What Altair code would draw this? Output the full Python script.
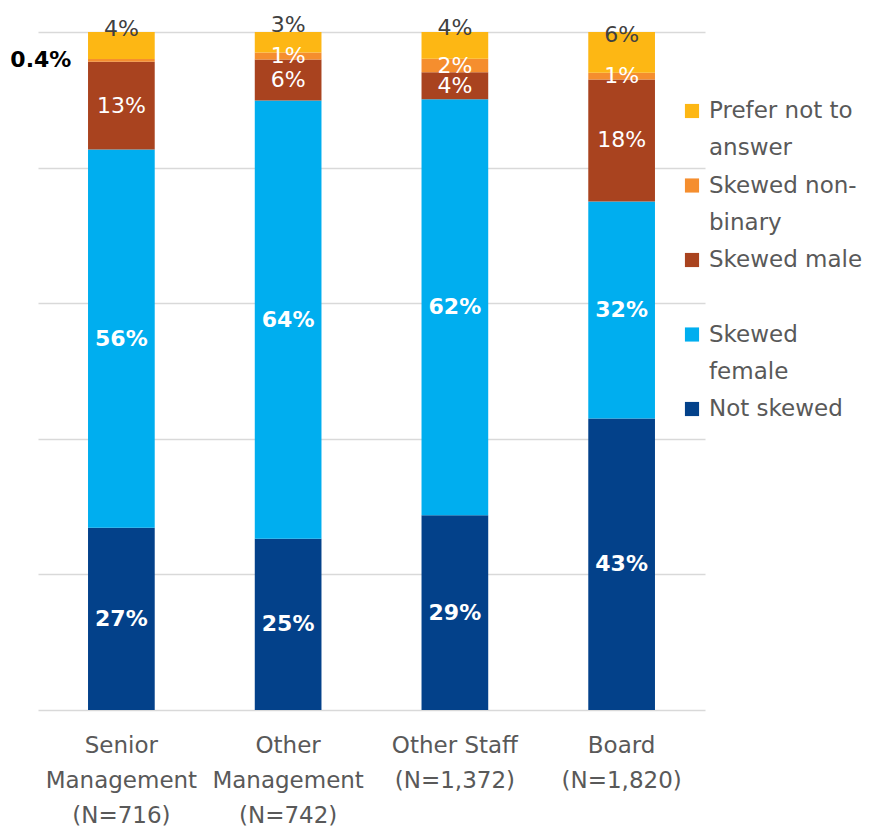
import altair as alt
import pandas as pd

categories = ["Senior|Management|(N=716)", "Other|Management|(N=742)",
              "Other Staff|(N=1,372)", "Board|(N=1,820)"]
series = ["Not skewed", "Skewed female", "Skewed male", "Skewed non-binary", "Prefer not to answer"]
not_skewed = [27, 25, 29, 43]
skewed_female = [56, 64, 62, 32]
skewed_male = [13, 6, 4, 18]
skewed_nonbinary = [0.4, 1, 2, 1]
prefer_not = [4, 3, 4, 6]
colors = ["#03418A", "#00AEEF", "#A9431F", "#F58E2E", "#FDB714"]

legend_order = ["Prefer not to answer", "Skewed non-binary", "Skewed male", "Skewed female", "Not skewed"]
legend_line1 = ["Prefer not to", "Skewed non-", "Skewed male", "Skewed", "Not skewed"]
legend_line2 = ["answer", "binary", "", "female", ""]

values_by_series = [not_skewed, skewed_female, skewed_male, skewed_nonbinary, prefer_not]
rows = []
for si, (s, vals) in enumerate(zip(series, values_by_series)):
    for c, v in zip(categories, vals):
        lab = f"{v}%" if v != int(v) else f"{int(v)}%"
        rows.append({"cat": c, "series": s, "idx": si, "value": v, "label": lab})
df = pd.DataFrame(rows)

leg = pd.DataFrame({"series": legend_order, "l1": legend_line1, "l2": legend_line2})

FONT = "DejaVu Sans"
color_scale = alt.Scale(domain=series, range=colors)

base = (
    alt.Chart(df)
    .transform_joinaggregate(total="sum(value)", groupby=["cat"])
    .transform_calculate(frac="datum.value / datum.total")
    .transform_stack(stack="frac", groupby=["cat"], sort=[alt.SortField("idx", order="ascending")], as_=["y0", "y1"])
    .transform_calculate(mid="(datum.y0 + datum.y1) / 2")
)

xenc = alt.X(
    "cat:N", sort=categories,
    scale=alt.Scale(paddingInner=0.6, paddingOuter=0.3),
    axis=alt.Axis(title=None, labelExpr="split(datum.label, '|')", labelAngle=0,
                  labelFontSize=23, labelFont=FONT, labelColor="#595959",
                  labelLineHeight=35, labelPadding=24, domain=False, ticks=False,
                  labelOverlap=False, labelLimit=400, labelAlign="center"),
)
yscale = alt.Scale(domain=[0, 1])

bars = base.mark_bar().encode(
    x=xenc,
    y=alt.Y("y0:Q", scale=yscale,
            axis=alt.Axis(title=None, labels=False, ticks=False, domain=False, grid=True,
                          values=[0, 0.2, 0.4, 0.6, 0.8, 1.0], gridColor="#D9D9D9", gridWidth=1.5)),
    y2="y1:Q",
    color=alt.Color("series:N", scale=color_scale, legend=None),
)

def text_layer(filt, **kw):
    return base.transform_filter(filt).mark_text(font=FONT, fontSize=22, **kw).encode(
        x=alt.X("cat:N", sort=categories),
        y=alt.Y("mid:Q", scale=yscale, axis=None),
        text="label:N",
    )

bold_labels = text_layer("datum.idx <= 1", fontWeight="bold", color="white")
small_labels = text_layer("(datum.idx == 2 || datum.idx == 3) && datum.value >= 0.5", color="white")
outside_labels = text_layer("datum.value < 0.5", fontWeight="bold", color="black", align="right", dx=-50)
top_labels = text_layer("datum.idx == 4", color="#404040", dy=-17)

leg_y = alt.Y("series:N", scale=alt.Scale(domain=legend_order, range=[79, 377], padding=0), axis=None)
leg_sq = alt.Chart(leg).mark_square(size=200, opacity=1).encode(
    x=alt.value(654), y=leg_y,
    color=alt.Color("series:N", scale=color_scale, legend=None),
)
leg_t1 = alt.Chart(leg).mark_text(font=FONT, fontSize=23, color="#595959", align="left").encode(
    x=alt.value(671), y=leg_y, text="l1:N")
leg_t2 = alt.Chart(leg).transform_filter("datum.l2 != ''").mark_text(
    font=FONT, fontSize=23, color="#595959", align="left", dy=37).encode(
    x=alt.value(671), y=leg_y, text="l2:N")

chart = (
    alt.layer(bars, bold_labels, small_labels, outside_labels, top_labels, leg_sq, leg_t1, leg_t2)
    .resolve_scale(y="independent")
    .properties(width=667, height=678,
                autosize=alt.AutoSizeParams(type="none"),
                padding={"left": 30, "top": 24, "right": 160, "bottom": 117})
    .configure_view(stroke=None)
)
chart.save("out.html", embed_options={"renderer": "svg", "actions": False})
